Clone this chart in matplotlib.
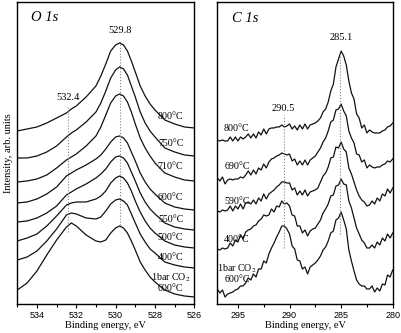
import matplotlib
matplotlib.use("Agg")
import matplotlib.pyplot as plt
from matplotlib.ticker import MultipleLocator

plt.rcParams['font.family'] = ['Liberation Serif', 'DejaVu Serif']
plt.rcParams['mathtext.fontset'] = 'stix'

# ---- O 1s spectra (intensity, arb. units, already offset) ----
o1s_energy = [535, 534.5, 534, 533.5, 533, 532.5, 532.25, 532, 531.5, 531,
              530.75, 530.5, 530.25, 530, 529.8, 529.6, 529.4, 529.2, 529,
              528.75, 528.5, 528.25, 528, 527.5, 527, 526.5, 526]
o1s_800 = [169, 171, 173, 177, 182, 187, 191, 194, 203, 214, 224, 236, 249, 255,
           257, 255, 249, 239, 228, 214, 204, 196, 190, 180, 176, 173, 172]
o1s_750 = [142, 142, 144, 148, 154, 163, 167, 170, 178, 188, 197, 209, 222, 230,
           233, 231, 225, 214, 203, 188, 177, 169, 163, 152, 148, 145, 144]
o1s_710 = [118, 119, 121, 125, 132, 140, 143, 146, 154, 164, 173, 185, 197, 204,
           206, 204, 198, 188, 176, 162, 152, 144, 137, 127, 123, 120, 119]
o1s_600 = [97, 98, 101, 106, 113, 124, 127, 130, 135, 141, 145, 151, 158, 163,
           164, 162, 157, 148, 139, 127, 118, 111, 106, 97, 93, 91, 90]
o1s_550 = [78, 79, 82, 87, 94, 105, 108, 111, 116, 122, 126, 131, 138, 143,
           144, 142, 137, 128, 119, 107, 98, 91, 86, 77, 73, 71, 70]
o1s_500 = [59, 62, 66, 74, 84, 95, 97, 98, 98, 101, 104, 109, 117, 122,
           124, 122, 117, 109, 99, 88, 79, 72, 67, 59, 55, 53, 52]
o1s_400 = [40, 43, 49, 59, 71, 85, 87, 86, 82, 81, 83, 89, 96, 100,
           101, 99, 95, 86, 77, 66, 58, 51, 47, 38, 35, 33, 32]
o1s_co2 = [10, 17, 29, 45, 60, 73, 77, 74, 65, 59, 58, 60, 67, 72,
           74, 72, 67, 59, 50, 38, 30, 23, 18, 10, 6, 4, 3]
o1s_labels = ["800°C", "750°C", "710°C", "600°C", "550°C", "500°C", "400°C",
              "1bar CO$_2$\n600°C"]
o1s_peaks = [532.4, 529.8]
o1s_peak_text = ["532.4", "529.8"]

# ---- C 1s spectra ----
c1s_energy = [297, 296.75, 296.5, 296.25, 296, 295.75, 295.5, 295.25,
              295, 294.75, 294.5, 294.25, 294, 293.75, 293.5, 293.25,
              293, 292.75, 292.5, 292.25, 292, 291.75, 291.5, 291.25,
              291, 290.75, 290.5, 290.25, 290, 289.75, 289.5, 289.25,
              289, 288.75, 288.5, 288.25, 288, 287.75, 287.5, 287.25,
              287, 286.75, 286.5, 286.25, 286, 285.75, 285.5, 285.25,
              285, 284.75, 284.5, 284.25, 284, 283.75, 283.5, 283.25,
              283, 282.75, 282.5, 282.25, 282, 281.75, 281.5, 281.25,
              281, 280.75, 280.5, 280.25, 280]
c1s_800 = [160, 159, 160, 159, 159, 163, 159, 163,
           159, 163, 161, 163, 166, 162, 166, 162,
           168, 165, 171, 166, 171, 172, 172, 173,
           173, 175, 173, 174, 176, 171, 174, 170,
           175, 171, 176, 171, 175, 176, 177, 179,
           182, 188, 191, 198, 209, 216, 233, 241,
           249, 244, 235, 219, 207, 201, 186, 182,
           172, 175, 167, 170, 168, 167, 167, 167,
           169, 170, 173, 174, 177]
c1s_690 = [122, 119, 123, 116, 120, 121, 120, 121,
           121, 123, 122, 125, 129, 125, 130, 126,
           132, 130, 136, 132, 138, 141, 142, 144,
           145, 147, 146, 145, 146, 139, 141, 135,
           139, 135, 140, 135, 140, 142, 144, 148,
           152, 158, 162, 169, 178, 180, 190, 191,
           196, 189, 184, 169, 162, 157, 146, 145,
           138, 140, 132, 135, 133, 132, 133, 133,
           135, 136, 139, 138, 141]
c1s_590 = [89, 88, 90, 89, 90, 94, 89, 94,
           91, 96, 91, 97, 98, 96, 100, 96,
           102, 99, 106, 101, 106, 108, 110, 113,
           115, 118, 118, 117, 117, 110, 112, 105,
           109, 105, 110, 104, 108, 109, 110, 112,
           118, 124, 127, 133, 142, 143, 153, 152,
           158, 151, 148, 132, 126, 118, 110, 104,
           100, 98, 94, 95, 99, 96, 102, 99,
           106, 104, 111, 107, 112]
c1s_400 = [51, 50, 52, 51, 52, 57, 54, 60,
           58, 65, 61, 68, 70, 71, 74, 75,
           79, 81, 85, 84, 85, 91, 88, 94,
           93, 99, 96, 97, 94, 85, 84, 74,
           74, 67, 70, 64, 69, 71, 72, 76,
           80, 87, 91, 96, 104, 105, 114, 115,
           121, 116, 115, 99, 92, 82, 72, 66,
           60, 57, 52, 52, 55, 52, 58, 55,
           62, 59, 66, 62, 67]
c1s_co2 = [11, 7, 10, 3, 6, 7, 8, 10,
           11, 14, 14, 17, 22, 20, 26, 23,
           31, 31, 39, 37, 46, 52, 57, 63,
           68, 74, 74, 71, 66, 54, 51, 40,
           39, 31, 33, 26, 33, 35, 37, 40,
           44, 50, 53, 59, 67, 69, 80, 82,
           88, 80, 71, 50, 39, 29, 20, 16,
           14, 14, 11, 11, 14, 8, 12, 9,
           16, 15, 25, 23, 30]
c1s_labels = ["800°C", "690°C", "590°C", "400°C", "1bar CO$_2$\n600°C"]
c1s_peaks = [290.5, 285.1]
c1s_peak_text = ["290.5", "285.1"]

# label / marker placement
o1s_label_y = [183, 156, 133, 102, 80, 62, 42, 18]
c1s_label_y = [171, 133, 98, 60, 27]
o1s_vline_span = [(68, 194), (75, 260)]
c1s_vline_span = [(52, 185), (66, 250)]

fig = plt.figure(figsize=(4.01, 3.33), dpi=100)
ax1 = fig.add_axes([0.0431, 0.0871, 0.4414, 0.907])
ax2 = fig.add_axes([0.5419, 0.0871, 0.4374, 0.907])

o1s_series = [o1s_800, o1s_750, o1s_710, o1s_600, o1s_550, o1s_500, o1s_400, o1s_co2]
for s in o1s_series:
    ax1.plot(o1s_energy, s, color='#111111', lw=0.9)
for e, (lo, hi) in zip(o1s_peaks, o1s_vline_span):
    ax1.vlines(e, lo, hi, colors='#808080', linestyles=':', lw=0.8)
ax1.text(529.8, 269, o1s_peak_text[1], ha='center', va='center', fontsize=7.5)
ax1.text(532.4, 202, o1s_peak_text[0], ha='center', va='center', fontsize=7.5)
for lbl, y in zip(o1s_labels, o1s_label_y):
    ax1.text(527.2, y, lbl, ha='center', va='center', fontsize=7.2, linespacing=1.0)
ax1.text(534.3, 282, "O 1s", ha='left', va='center', fontsize=10.5, style='italic')

c1s_series = [c1s_800, c1s_690, c1s_590, c1s_400, c1s_co2]
for s in c1s_series:
    ax2.plot(c1s_energy, s, color='#111111', lw=0.9)
for e, (lo, hi) in zip(c1s_peaks, c1s_vline_span):
    ax2.vlines(e, lo, hi, colors='#808080', linestyles=':', lw=0.8)
ax2.text(290.6, 191, c1s_peak_text[0], ha='center', va='center', fontsize=7.5)
ax2.text(284.95, 262, c1s_peak_text[1], ha='center', va='center', fontsize=7.5)
for lbl, y in zip(c1s_labels, c1s_label_y):
    ax2.text(295.1, y, lbl, ha='center', va='center', fontsize=7.2, linespacing=1.0)
ax2.text(295.55, 281, "C 1s", ha='left', va='center', fontsize=10.5, style='italic')

ax1.set_xlim(535, 526)
ax2.set_xlim(297, 280)
ax1.xaxis.set_major_locator(MultipleLocator(2))
ax1.xaxis.set_minor_locator(MultipleLocator(1))
ax2.xaxis.set_major_locator(MultipleLocator(5))
ax2.xaxis.set_minor_locator(MultipleLocator(2.5))

for ax in (ax1, ax2):
    ax.set_ylim(-4, 298)
    ax.set_yticks([])
    ax.tick_params(axis='x', which='major', direction='out', length=3, width=0.8,
                   labelsize=6.5, pad=2, labelfontfamily='Liberation Sans')
    ax.tick_params(axis='x', which='minor', direction='out', length=2, width=0.8)
    for sp in ax.spines.values():
        sp.set_linewidth(1.0)
    ax.set_xlabel("Binding energy, eV", fontsize=7.5, labelpad=1)

ax1.set_ylabel("Intensity, arb. units", fontsize=7.5, labelpad=3)

fig.savefig("out.png", dpi=100)
